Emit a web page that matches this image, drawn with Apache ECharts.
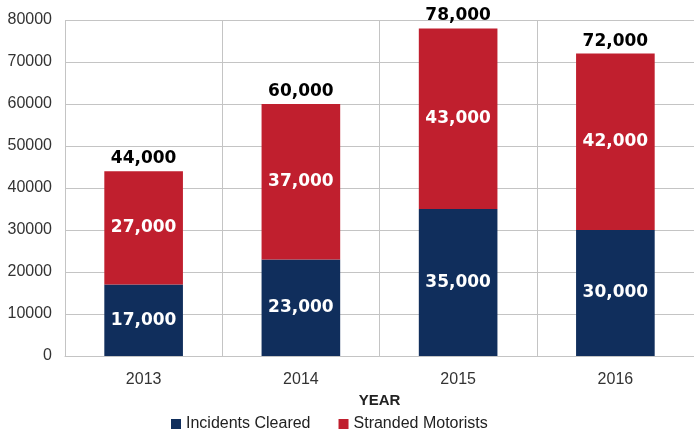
<!DOCTYPE html>
<html>
<head>
<meta charset="utf-8">
<script src="https://cdn.jsdelivr.net/npm/echarts@6/dist/echarts.min.js"></script>
<style>
  html, body { margin: 0; padding: 0; background: #fff; }
  #chart { width: 694px; height: 432px; }
</style>
</head>
<body>
<div id="chart"></div>
<script>
// Annual service totals by year
const years = ['2013', '2014', '2015', '2016'];
const incidentsCleared = [17000, 23000, 35000, 30000];
const strandedMotorists = [27000, 37000, 43000, 42000];
const yTicks = { min: 0, max: 80000, interval: 10000 };

const totals = years.map((_, i) => incidentsCleared[i] + strandedMotorists[i]);
const fmt = v => String(v).replace(/\B(?=(\d{3})+(?!\d))/g, ',');

const NAVY = '#102e5c';
const RED = '#c01f2e';
const GRID = '#c4c4c4';
const valueFont = 'DejaVu Sans';

const chart = echarts.init(document.getElementById('chart'), null, { renderer: 'canvas' });
chart.setOption({
  animation: false,
  backgroundColor: '#ffffff',
  grid: { left: 65, top: 20, width: 632, height: 336 },
  legend: {
    data: ['Incidents Cleared', 'Stranded Motorists'],
    left: 166, top: 411,
    itemWidth: 10, itemHeight: 10, itemGap: 28,
    icon: 'rect',
    textStyle: { fontFamily: 'Liberation Sans', fontSize: 16, color: '#222' }
  },
  xAxis: {
    type: 'category',
    data: years,
    boundaryGap: true,
    name: 'YEAR',
    nameLocation: 'middle',
    nameGap: 33,
    nameTextStyle: { fontFamily: 'Liberation Sans', fontWeight: 'bold', fontSize: 15, color: '#222' },
    axisTick: { show: false },
    axisLine: { show: true, lineStyle: { color: GRID, width: 1 } },
    axisLabel: { margin: 16, fontFamily: 'Liberation Sans', fontSize: 16, color: '#333' },
    splitLine: { show: true, lineStyle: { color: GRID, width: 1 } }
  },
  yAxis: {
    type: 'value',
    min: yTicks.min, max: yTicks.max, interval: yTicks.interval,
    axisLine: { show: false },
    axisTick: { show: false },
    axisLabel: {
      margin: 13, fontFamily: 'Liberation Sans', fontSize: 16, color: '#333',
      formatter: v => String(v)
    },
    splitLine: { show: true, lineStyle: { color: GRID, width: 1 } }
  },
  series: [
    {
      name: 'Incidents Cleared',
      type: 'bar',
      stack: 'total',
      barWidth: '50%',
      data: incidentsCleared,
      itemStyle: { color: NAVY },
      label: {
        show: true, position: 'inside',
        formatter: p => fmt(p.value),
        color: '#fff', fontFamily: valueFont, fontWeight: 'bold', fontSize: 17
      }
    },
    {
      name: 'Stranded Motorists',
      type: 'bar',
      stack: 'total',
      barWidth: '50%',
      data: strandedMotorists,
      itemStyle: { color: RED },
      label: {
        show: true, position: 'inside',
        formatter: p => fmt(p.value),
        color: '#fff', fontFamily: valueFont, fontWeight: 'bold', fontSize: 17
      }
    },
    {
      name: 'Total',
      type: 'scatter',
      data: totals,
      symbolSize: 0,
      silent: true,
      itemStyle: { color: '#000', opacity: 1 },
      label: {
        show: true, position: 'top', distance: 4,
        formatter: p => fmt(p.value),
        color: '#000', opacity: 1, fontFamily: valueFont, fontWeight: 'bold', fontSize: 17
      }
    }
  ]
});
</script>
</body>
</html>
